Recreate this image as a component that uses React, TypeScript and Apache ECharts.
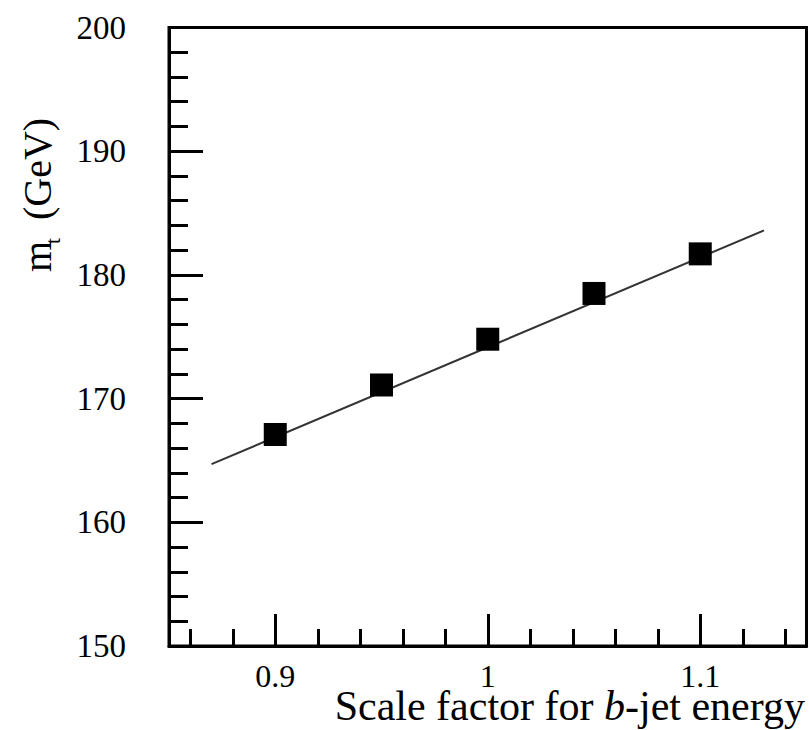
import React, { useEffect, useRef } from "react";
import * as echarts from "echarts";

// b-jet energy scale factor vs fitted top mass
const scaleFactors = [0.9, 0.95, 1.0, 1.05, 1.1];
const topMass = [167.1, 171.1, 174.8, 178.5, 181.7];
// straight-line fit drawn across the points
const fitX = [0.87, 1.13];
const fitY = [164.7, 183.6];
// axis ticks
const xMajorTicks = [0.9, 1.0, 1.1];
const xMinorTicks = [0.86, 0.88, 0.92, 0.94, 0.96, 0.98, 1.02, 1.04, 1.06, 1.08, 1.12, 1.14];
const xRange = [0.85, 1.15];
const yRange = [150, 200];
const yStep = 10;

const FONT = '"Liberation Serif", "Times New Roman", serif';

export default function App() {
  const ref = useRef<HTMLDivElement>(null);
  useEffect(() => {
    if (!ref.current) return;
    const chart = echarts.init(ref.current, null, { renderer: "svg" });
    const scatterData = scaleFactors.map((x, i) => [x, topMass[i]]);
    const fitData = fitX.map((x, i) => [x, fitY[i]]);
    const tickStyle = { color: "#000", width: 3 };
    chart.setOption({
      animation: false,
      backgroundColor: "#fff",
      grid: {
        left: 169,
        top: 27.5,
        right: 2.5,
        bottom: 84,
        show: true,
        borderColor: "#000",
        borderWidth: 3,
        backgroundColor: "transparent",
      },
      xAxis: [
        {
          type: "value",
          min: xRange[0],
          max: xRange[1],
          position: "bottom",
          axisLine: { show: true, onZero: false, lineStyle: { color: "#000", width: 3 } },
          axisTick: {
            show: true,
            inside: true,
            length: 17,
            lineStyle: tickStyle,
            customValues: xMinorTicks,
          },
          axisLabel: {
            show: true,
            customValues: xMajorTicks,
            margin: 17,
            lineHeight: 26,
            color: "#000",
            fontFamily: FONT,
            fontSize: 32,
          },
          splitLine: { show: false },
        },
        {
          type: "value",
          min: xRange[0],
          max: xRange[1],
          position: "bottom",
          axisLine: { show: false },
          axisTick: {
            show: true,
            inside: true,
            length: 32,
            lineStyle: tickStyle,
            customValues: xMajorTicks,
          },
          axisLabel: { show: false },
          splitLine: { show: false },
        },
      ],
      yAxis: {
        type: "value",
        min: yRange[0],
        max: yRange[1],
        interval: yStep,
        axisLine: { show: true, lineStyle: { color: "#000", width: 3 } },
        axisTick: { show: true, inside: true, length: 34, lineStyle: tickStyle },
        minorTick: { show: true, splitNumber: 5, length: 19, lineStyle: tickStyle },
        axisLabel: {
          margin: 43,
          color: "#000",
          fontFamily: FONT,
          fontSize: 33,
        },
        splitLine: { show: false },
        minorSplitLine: { show: false },
      },
      series: [
        {
          type: "line",
          xAxisIndex: 0,
          data: fitData,
          showSymbol: false,
          symbol: "none",
          lineStyle: { color: "#333", width: 2 },
          z: 2,
        },
        {
          type: "scatter",
          xAxisIndex: 0,
          data: scatterData,
          symbol: "rect",
          symbolSize: 23,
          itemStyle: { color: "#000", opacity: 1 },
          z: 3,
        },
      ],
      graphic: [
        {
          type: "group",
          x: 37,
          y: 272,
          rotation: Math.PI / 2,
          children: [
            {
              type: "text",
              x: 0,
              y: 0,
              style: {
                text: "m",
                fontFamily: FONT,
                fontSize: 40,
                fill: "#000",
                align: "left",
                verticalAlign: "middle",
              },
            },
            {
              type: "text",
              x: 28,
              y: 15,
              style: {
                text: "t",
                fontFamily: FONT,
                fontSize: 22,
                fill: "#000",
                align: "left",
                verticalAlign: "middle",
              },
            },
            {
              type: "text",
              x: 52,
              y: 0,
              style: {
                text: "(GeV)",
                fontFamily: FONT,
                fontSize: 40,
                fill: "#000",
                align: "left",
                verticalAlign: "middle",
              },
            },
          ],
        },
        {
          type: "text",
          x: 805,
          y: 706,
          style: {
            text: "{n|Scale factor for }{i|b}{n|-jet energy}",
            fontFamily: FONT,
            fontSize: 42,
            lineHeight: 30,
            fill: "#000",
            align: "right",
            verticalAlign: "middle",
            rich: {
              n: { fontFamily: FONT, fontSize: 42, lineHeight: 30, fill: "#000" },
              i: { fontFamily: FONT, fontSize: 42, lineHeight: 30, fontStyle: "italic", fill: "#000" },
            },
          },
        },
      ],
    });
    return () => chart.dispose();
  }, []);
  return (
    <div
      ref={ref}
      style={{ position: "fixed", left: 0, top: 0, width: 809, height: 730, background: "#fff" }}
    />
  );
}
